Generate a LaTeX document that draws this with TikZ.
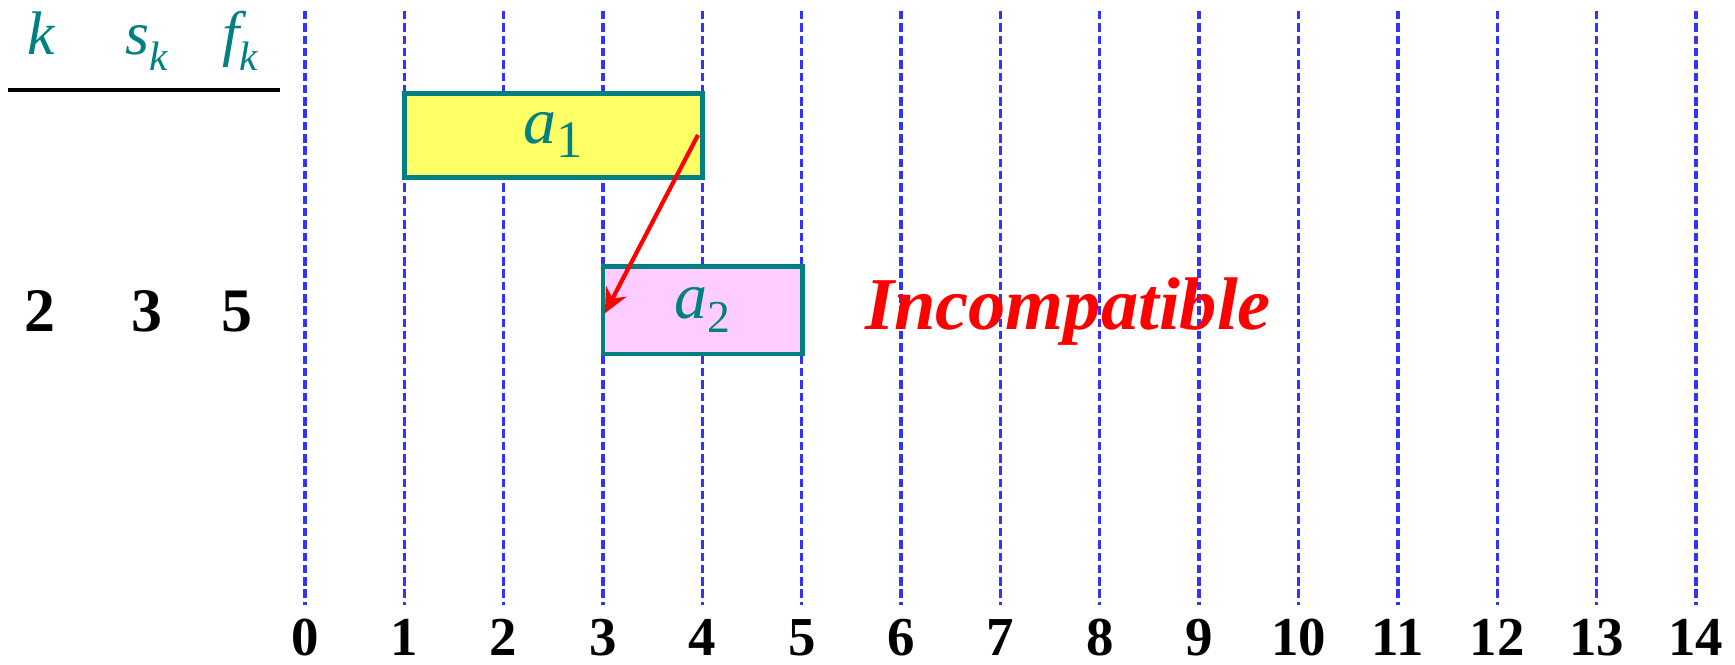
\documentclass[tikz,border=0pt]{standalone}
\usepackage{fontspec}
\setmainfont{Liberation Serif}
\usetikzlibrary{arrows.meta,calc}
\definecolor{tealc}{RGB}{0,128,128}
\definecolor{gridblue}{RGB}{51,51,255}
\definecolor{boxyellow}{RGB}{255,255,102}
\definecolor{boxpink}{RGB}{255,204,255}
\newcommand{\mysub}[3]{\raisebox{-#2}{\fontsize{#1}{#1}\selectfont #3}}
\begin{document}
\begin{tikzpicture}[x=0.01cm,y=-0.01cm,
  gridline/.style={gridblue,line width=0.95pt,dash pattern=on 2.4pt off 1.1pt},
  ticklabel/.style={anchor=base,inner sep=0,font=\fontsize{15.6}{16}\selectfont\bfseries},
  headlabel/.style={anchor=base,inner sep=0,text=tealc,font=\fontsize{17.5}{18}\selectfont\itshape},
  rowval/.style={anchor=base,inner sep=0,font=\fontsize{17.6}{18}\selectfont\bfseries},
  interval/.style={draw=tealc,line width=1.3pt,inner sep=0,text=tealc,font=\fontsize{18.8}{19}\selectfont\itshape},
  relarrow/.style={red,line width=1.2pt,-{Stealth[length=7pt,width=6.5pt]}},
  ]
\useasboundingbox (0,0) rectangle (1735,665);
% grid lines and axis labels
\foreach \i in {0,...,14}{
  \coordinate (t\i) at ({305+\i*99.35},11);
  \coordinate (b\i) at ({305+\i*99.35},605);
  \draw[gridline] (t\i) -- (b\i);
  \node[ticklabel] (n\i) at ({305+\i*99.35},656) {\i};
}
% header
\node[headlabel] (hk) at (41,55) {k};
\node[headlabel] (hs) at (147,55) {s\mysub{11.7pt}{4.5pt}{k}};
\node[headlabel] (hf) at (240,55) {f\mysub{11.7pt}{4.5pt}{k}};
\coordinate (ulA) at (8,90);
\coordinate (ulB) at (280,90);
\draw[line width=1.15pt] (ulA) -- (ulB);
% row values
\node[rowval] (r1) at (40,332) {2};
\node[rowval] (r2) at (147,332) {3};
\node[rowval] (r3) at (237,332) {5};
% intervals
\node[interval,fill=boxyellow,minimum width=2.98cm,minimum height=0.84cm] (a1) at (553.4,135.3)
  {a\mysub{15pt}{4pt}{\upshape 1}};
\node[interval,fill=boxpink,minimum width=1.99cm,minimum height=0.873cm] (a2) at (702.7,310.3)
  {a\mysub{13pt}{4pt}{\upshape 2}};
% arrow
\coordinate (arrS) at (698,135);
\draw[relarrow] (arrS) -- ($(a2.west)+(4,3)$);
% label
\node[anchor=base,inner sep=0,text=red,font=\fontsize{21.2}{22}\selectfont\bfseries\itshape] (inc) at (1068,330) {Incompatible};
\end{tikzpicture}
\end{document}
